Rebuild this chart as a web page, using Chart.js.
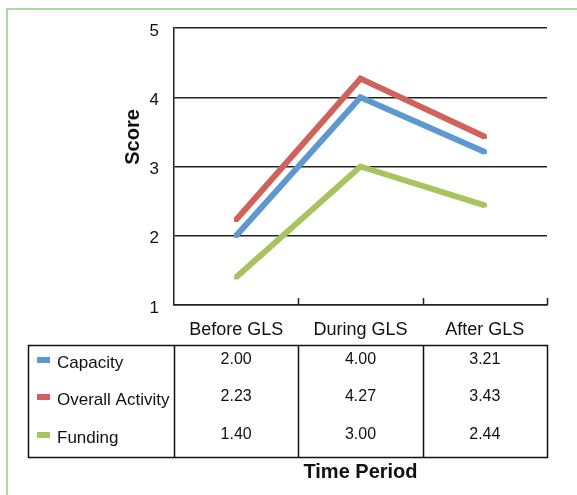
<!DOCTYPE html>
<html>
<head>
<meta charset="utf-8">
<script src="https://cdn.jsdelivr.net/npm/chart.js@4"></script>
<style>
html,body{margin:0;padding:0;background:#fff;}
#wrap{width:577px;height:495px;position:relative;}
</style>
</head>
<body>
<div id="wrap"><canvas id="c" width="577" height="495"></canvas></div>
<script>
const categories = ['Before GLS', 'During GLS', 'After GLS'];
const capacity = [2.00, 4.00, 3.21];
const overallActivity = [2.23, 4.27, 3.43];
const funding = [1.40, 3.00, 2.44];
const seriesNames = ['Capacity', 'Overall Activity', 'Funding'];
const yTicks = [1, 2, 3, 4, 5];

const COLORS = ['#5e98d1', '#d0625c', '#a8c460'];
const FONT = '"Liberation Sans", Arial, Helvetica, sans-serif';

const tablePlugin = {
  id: 'tablePlugin',
  beforeDraw(chart) {
    const ctx = chart.ctx;
    ctx.save();
    ctx.fillStyle = '#fff';
    ctx.fillRect(0, 0, chart.width, chart.height);
    ctx.strokeStyle = '#a6dc9e';
    ctx.lineWidth = 2;
    ctx.strokeRect(7, 9, 700, 700);
    ctx.restore();
  },
  afterDraw(chart) {
    const ctx = chart.ctx;
    const x = chart.scales.x;
    const area = chart.chartArea;
    const centers = categories.map((c, i) => x.getPixelForValue(i));
    const bounds = [area.left];
    for (let i = 1; i < centers.length; i++) bounds.push((centers[i - 1] + centers[i]) / 2);
    bounds.push(area.right);

    ctx.save();
    // upward tick marks at category boundaries
    ctx.strokeStyle = '#222';
    ctx.lineWidth = 1.5;
    ctx.beginPath();
    for (let i = 1; i < bounds.length; i++) {
      ctx.moveTo(Math.round(bounds[i]) + 0.5, area.bottom - 7);
      ctx.lineTo(Math.round(bounds[i]) + 0.5, area.bottom);
    }
    ctx.stroke();

    // table
    const tTop = 345, tBot = 457, tLeft = 28;
    ctx.lineWidth = 1.5;
    ctx.strokeStyle = '#111';
    ctx.strokeRect(tLeft + 0.5, tTop + 0.5, area.right - tLeft, tBot - tTop);
    ctx.beginPath();
    for (let i = 0; i < bounds.length - 1; i++) {
      ctx.moveTo(Math.round(bounds[i]) + 0.5, tTop);
      ctx.lineTo(Math.round(bounds[i]) + 0.5, tBot);
    }
    ctx.stroke();

    const rowY = [363, 400, 438];
    const data = [capacity, overallActivity, funding];
    ctx.textBaseline = 'middle';
    for (let r = 0; r < seriesNames.length; r++) {
      ctx.fillStyle = COLORS[r];
      ctx.fillRect(37, rowY[r] - 6, 13, 6);
      ctx.fillStyle = '#111';
      ctx.textAlign = 'left';
      ctx.font = '17px ' + FONT;
      ctx.fillText(seriesNames[r], 57, rowY[r]);
      ctx.textAlign = 'center';
      ctx.font = '16px ' + FONT;
      for (let c = 0; c < categories.length; c++) {
        ctx.fillText(data[r][c].toFixed(2), (bounds[c] + bounds[c + 1]) / 2, rowY[r] - 3);
      }
    }

    // axis titles
    ctx.font = 'bold 20px ' + FONT;
    ctx.fillStyle = '#111';
    ctx.textAlign = 'center';
    ctx.fillText('Time Period', (area.left + area.right) / 2, 472);
    ctx.translate(133, 137);
    ctx.rotate(-Math.PI / 2);
    ctx.fillText('Score', 0, 0);
    ctx.restore();
  }
};

const mk = (label, data, i) => ({
  label, data,
  borderColor: COLORS[i],
  backgroundColor: COLORS[i],
  borderWidth: 6,
  borderJoinStyle: 'miter',
  borderCapStyle: 'butt',
  pointStyle: 'rect',
  pointRadius: 3,
  pointBorderWidth: 0,
  pointHoverRadius: 3,
  tension: 0,
  fill: false
});

new Chart(document.getElementById('c'), {
  type: 'line',
  data: {
    labels: categories,
    datasets: [
      mk(seriesNames[2], funding, 2),
      mk(seriesNames[0], capacity, 0),
      mk(seriesNames[1], overallActivity, 1)
    ]
  },
  options: {
    responsive: false,
    animation: false,
    events: [],
    layout: { padding: { left: 0, top: 28, right: 30, bottom: 0 } },
    plugins: { legend: { display: false }, tooltip: { enabled: false }, title: { display: false } },
    scales: {
      x: {
        offset: true,
        afterFit: s => { s.height = 190; },
        grid: { display: false, drawTicks: false },
        border: { display: true, color: '#222', width: 1.5 },
        ticks: { color: '#111', padding: 14, font: { family: FONT, size: 18 } }
      },
      y: {
        min: 1, max: 5,
        afterFit: s => { s.width = 174; },
        afterBuildTicks: s => { s.ticks = yTicks.map(v => ({ value: v })); },
        grid: { color: '#222', lineWidth: 1.5, drawTicks: false },
        border: { display: true, color: '#222', width: 1.5 },
        ticks: { color: '#111', padding: 15, labelOffset: 3, font: { family: FONT, size: 17 } }
      }
    }
  },
  plugins: [tablePlugin]
});
</script>
</body>
</html>
